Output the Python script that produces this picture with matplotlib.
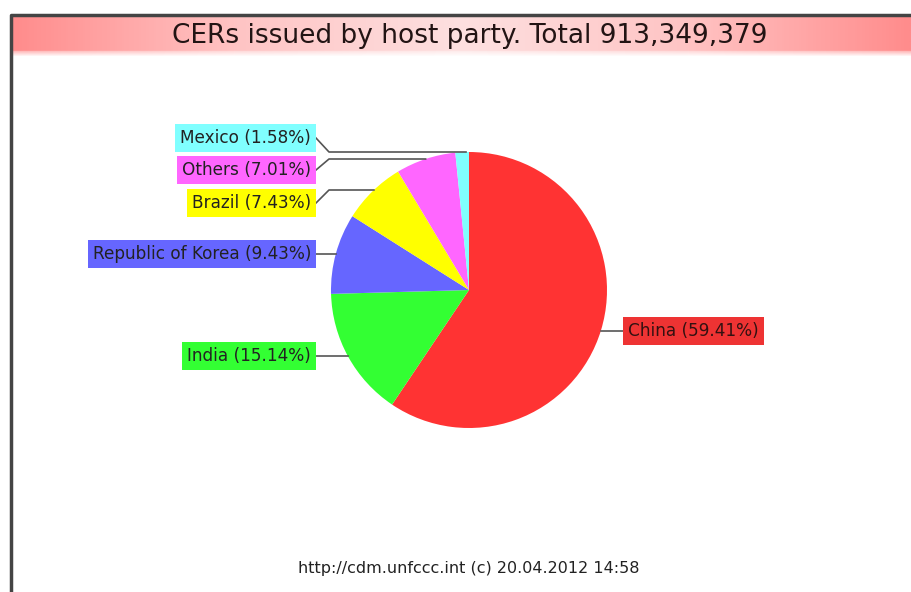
import numpy as np
import matplotlib
matplotlib.use("Agg")
import matplotlib.pyplot as plt
from matplotlib.colors import LinearSegmentedColormap

# ---- data ----
parties = ["China", "India", "Republic of Korea", "Brazil", "Others", "Mexico"]
shares = [59.41, 15.14, 9.43, 7.43, 7.01, 1.58]
total_cers = 913349379
title = "CERs issued by host party. Total {:,}".format(total_cers)
footer = "http://cdm.unfccc.int (c) 20.04.2012 14:58"

# ---- style ----
colors = ["#ff3333", "#33ff33", "#6666ff", "#ffff00", "#ff66ff", "#80ffff"]
box_colors = ["#ee3333", "#33ff33", "#6666ff", "#ffff00", "#ff66ff", "#80ffff"]
W, H = 912, 592
cx, cy, R = 469, 290, 138
label_rows = {"China": 331, "India": 356, "Republic of Korea": 254,
              "Brazil": 203, "Others": 170, "Mexico": 138}
bend_rows = {"Brazil": 190, "Others": 159, "Mexico": 152}

plt.rcParams['font.family'] = ['DejaVu Sans']
fig = plt.figure(figsize=(W / 100, H / 100), dpi=100)
ax = fig.add_axes([0, 0, 1, 1])

def Y(y):
    return H - y

# pie
ax.pie(shares, colors=colors, startangle=90, counterclock=False,
       center=(cx, Y(cy)), radius=R, frame=True,
       wedgeprops=dict(linewidth=0))
ax.set_xlim(0, W)
ax.set_ylim(0, H)
ax.set_aspect('equal')
ax.axis('off')

# title band gradient
cmap = LinearSegmentedColormap.from_list(
    "band", ["#ff8c8c", "#ffc4c4", "#fde0e0", "#ffc4c4", "#ff8c8c"])
xs = np.linspace(0, 1, 400)
nrow = 40
band = cmap(xs)[None, :, :].repeat(nrow, axis=0).copy()
fade = np.ones(nrow)
fade[-6:] = np.linspace(0.6, 0.0, 6)
for i in range(nrow):
    band[i, :, :3] = 1 - (1 - band[i, :, :3]) * fade[i]
ax.imshow(band, extent=[11, W, Y(57), Y(16)], aspect='auto', zorder=1,
          interpolation='bilinear')
ax.set_xlim(0, W)
ax.set_ylim(0, H)
ax.text(470, Y(36), title, ha='center', va='center', fontsize=19,
        color='#221414', zorder=3)

# frame
ax.plot([11, 11, W + 5], [Y(H + 5), Y(15), Y(15)], color='#444444', lw=2.5,
        solid_capstyle='butt', zorder=4)

# labels with leader lines
for name, pct, bc in zip(parties, shares, box_colors):
    row = label_rows[name]
    txt = "{} ({:.2f}%)".format(name, pct)
    if name == "China":
        ax.text(628, Y(row), txt, ha='left', va='center', fontsize=12.2,
                color='#331111', zorder=5,
                bbox=dict(boxstyle='square,pad=0.3', fc=bc, ec='none'))
        dy = row - cy
        xe = cx + np.sqrt(R ** 2 - dy ** 2)
        ax.plot([xe, 624], [Y(row), Y(row)], color='#555555', lw=1.2, zorder=4)
    else:
        ax.text(311, Y(row), txt, ha='right', va='center', fontsize=12.2,
                color='#222222', zorder=5,
                bbox=dict(boxstyle='square,pad=0.3', fc=bc, ec='none'))
        brow = bend_rows.get(name, row)
        dy = brow - cy
        xe = cx - np.sqrt(max(R ** 2 - dy ** 2, 0))
        if name == "Mexico":
            xe = cx - 3
        if brow != row:
            ax.plot([316, 329, xe], [Y(row), Y(brow), Y(brow)], color='#555555',
                    lw=1.2, zorder=4)
        else:
            ax.plot([316, xe], [Y(row), Y(row)], color='#555555', lw=1.2, zorder=4)

ax.text(469, Y(568), footer, ha='center', va='center', fontsize=11.5,
        color='#222222', zorder=3)

fig.savefig("out.png", dpi=100)
